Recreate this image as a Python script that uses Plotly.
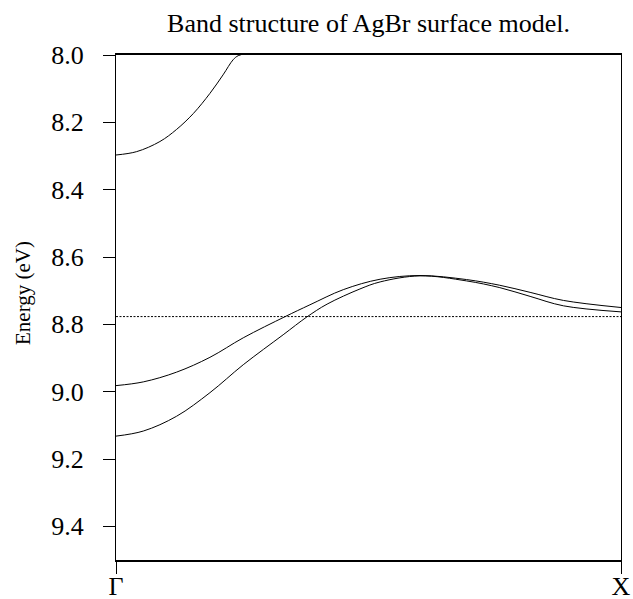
import plotly.graph_objects as go

# k-path fraction from Gamma (0) to X (1)
band1_k = [0.0, 0.041, 0.087, 0.120, 0.153, 0.186, 0.212, 0.232, 0.242, 0.26]
band1_e = [8.297, 8.287, 8.257, 8.221, 8.174, 8.114, 8.059, 8.014, 8.002, 7.995]

band2_k = [0.0, 0.054, 0.120, 0.186, 0.252, 0.335, 0.384, 0.450, 0.523, 0.602,
           0.694, 0.760, 0.820, 0.886, 1.0]
band2_e = [8.982, 8.971, 8.942, 8.898, 8.840, 8.777, 8.742, 8.697, 8.666, 8.655,
           8.667, 8.684, 8.705, 8.729, 8.750]

band3_k = [0.0, 0.054, 0.120, 0.186, 0.252, 0.331, 0.378, 0.418, 0.483, 0.523,
           0.602, 0.694, 0.760, 0.820, 0.886, 1.0]
band3_e = [9.132, 9.117, 9.073, 9.003, 8.920, 8.831, 8.778, 8.740, 8.695, 8.674,
           8.656, 8.671, 8.691, 8.717, 8.745, 8.763]

fermi_level = 8.777

kpoint_pos = [0.0, 1.0]
kpoint_labels = ["Γ", "X"]
energy_ticks = [8.0, 8.2, 8.4, 8.6, 8.8, 9.0, 9.2, 9.4]

serif = "Liberation Serif"

fig = go.Figure()
for ks, es in [(band1_k, band1_e), (band2_k, band2_e), (band3_k, band3_e)]:
    fig.add_trace(go.Scatter(
        x=ks, y=es, mode="lines",
        line=dict(color="black", width=1, shape="spline", smoothing=1.0),
        showlegend=False, hoverinfo="skip",
    ))

fig.add_trace(go.Scatter(
    x=[kpoint_pos[0], kpoint_pos[-1]], y=[fermi_level, fermi_level],
    mode="lines", line=dict(color="black", width=1, dash="2px,1.5px"),
    showlegend=False, hoverinfo="skip",
))

# plot area: 505 x 505 px, offset (116, 55) inside the 633 x 599 page
fig.update_layout(
    template="none",
    width=633, height=599,
    margin=dict(l=116, r=12, t=55, b=39, autoexpand=False),
    paper_bgcolor="white", plot_bgcolor="white",
    font=dict(family=serif, color="black", size=26),
    title=dict(
        text="Band structure of AgBr surface model.",
        font=dict(family=serif, size=26, color="black"),
        x=368.5 / 633, xanchor="center",
        y=1 - 23 / 599, yanchor="middle",
    ),
    annotations=[dict(
        text="Energy (eV)", textangle=-90,
        xref="paper", yref="paper",
        x=(23 - 116) / 505, y=1 - (293 - 55) / 505,
        xanchor="center", yanchor="middle", showarrow=False,
        font=dict(family=serif, size=21, color="black"),
    )],
)

fig.update_xaxes(
    range=[0, 1], automargin=False,
    tickvals=kpoint_pos, ticktext=kpoint_labels,
    ticks="outside", ticklen=12, tickwidth=1, tickcolor="black",
    showline=True, linewidth=2, linecolor="black", mirror=True,
    showgrid=False, zeroline=False,
    tickfont=dict(family=serif, size=26, color="black"),
    ticklabelstandoff=-10,
)

fig.update_yaxes(
    range=[9.5, 8.0], automargin=False,
    tickvals=energy_ticks, tickformat=".1f",
    ticks="outside", ticklen=12, tickwidth=1, tickcolor="black",
    showline=True, linewidth=1, linecolor="black", mirror=True,
    showgrid=False, zeroline=False,
    tickfont=dict(family=serif, size=26, color="black"),
    ticklabelstandoff=14,
)

fig.write_html("out.html")
